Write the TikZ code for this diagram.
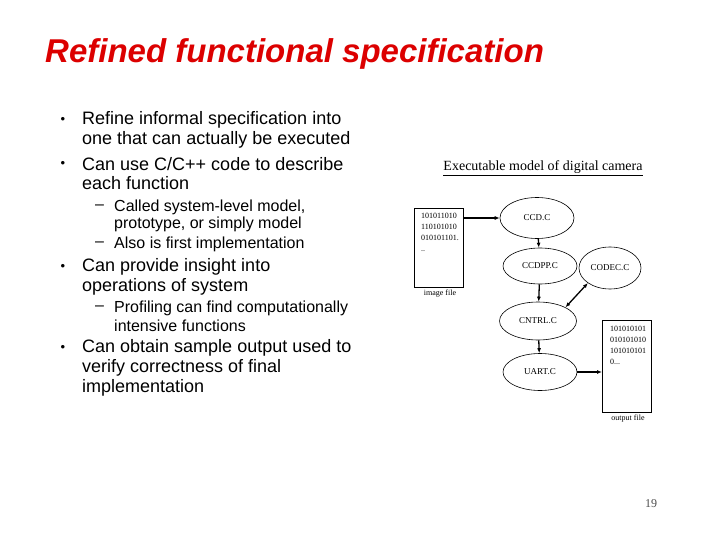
\documentclass[tikz,border=0pt]{standalone}
\usepackage{fontspec}
\setmainfont{Liberation Sans}
\newfontfamily\serifx{Liberation Serif}
\usetikzlibrary{arrows.meta,shapes.geometric}
\definecolor{ttl}{RGB}{220,0,0}
\begin{document}
\begin{tikzpicture}[x=1pt,y=-1pt,
  body/.style={anchor=west,inner sep=0,font=\fontsize{18}{20}\selectfont},
  sub/.style={anchor=west,inner sep=0,font=\fontsize{16}{18}\selectfont},
  ell/.style={draw,ellipse,line width=0.6pt,inner sep=0,font=\serifx\fontsize{9}{10}\selectfont},
  docbox/.style={draw,line width=0.6pt,anchor=north west,inner sep=0},
  doctext/.style={anchor=north west,align=left,inner sep=0,font=\serifx\fontsize{8}{11}\selectfont},
  doccap/.style={inner sep=0,font=\serifx\fontsize{8}{9}\selectfont},
  arr/.style={-{Latex[length=5pt,width=4pt]},line width=1.3pt}]
\useasboundingbox (0,0) rectangle (720,540);
\node[anchor=west,inner sep=0,text=ttl,font=\bfseries\itshape\fontsize{33}{36}\selectfont] (title) at (45,54) {Refined functional specification};
\foreach \y/\n in {120/b1,164/b2,267/b3,348/b4}
  \node[inner sep=0,font=\fontsize{13}{13}\selectfont] (\n) at (63,\y) {\textbullet};
\node[body] (l1) at (82,120) {Refine informal specification into};
\node[body] (l2) at (82,140) {one that can actually be executed};
\node[body] (l3) at (82,164) {Can use C/C++ code to describe};
\node[body] (l4) at (82,183) {each function};
\node[sub] (d1) at (95,207) {–};
\node[sub] (s1) at (114,207) {Called system-level model,};
\node[sub] (s2) at (114,224) {prototype, or simply model};
\node[sub] (d2) at (95,244) {–};
\node[sub] (s3) at (114,244) {Also is first implementation};
\node[body] (l5) at (82,267) {Can provide insight into};
\node[body] (l6) at (82,287) {operations of system};
\node[sub] (d3) at (95,308) {–};
\node[sub] (s4) at (114,308) {Profiling can find computationally};
\node[sub] (s5) at (114,326) {intensive functions};
\node[body] (l7) at (82,348) {Can obtain sample output used to};
\node[body] (l8) at (82,368) {verify correctness of final};
\node[body] (l9) at (82,388) {implementation};
% diagram
\node[inner sep=1pt,font=\serifx\fontsize{14}{15}\selectfont] (hd) at (543,168) {\underline{Executable model of digital camera}};
\node[docbox,minimum width=49pt,minimum height=79pt] (img) at (414,208) {};
\node[doctext] (imgt) at (421,213) {101011010\\110101010\\010101101.\\..};
\node[doccap,anchor=north] (imgc) at (440,290) {image file};
\node[docbox,minimum width=49pt,minimum height=92pt] (out) at (602,320) {};
\node[doctext] (outt) at (610,326) {101010101\\010101010\\101010101\\0...};
\node[doccap,anchor=north] (outc) at (628,415) {output file};
\node[ell,minimum width=74pt,minimum height=41pt] (ccd) at (537,218) {CCD.C};
\node[ell,minimum width=74pt,minimum height=36pt] (ccdpp) at (540,266) {CCDPP.C};
\node[ell,minimum width=62pt,minimum height=42pt] (codec) at (610,268) {CODEC.C};
\node[ell,minimum width=77pt,minimum height=38pt] (cntrl) at (538,321) {CNTRL.C};
\node[ell,minimum width=74pt,minimum height=37pt] (uart) at (540,372) {UART.C};
\draw[arr] (img.east|-ccd) -- (ccd.west);
\draw[arr] (ccd) -- (ccdpp);
\draw[arr] (ccdpp) -- (cntrl);
\draw[arr,{Latex[length=5pt,width=4pt]}-{Latex[length=5pt,width=4pt]}] (cntrl.north east) -- (codec.south west);
\draw[arr] (cntrl) -- (uart);
\draw[arr] (uart.east) -- (out.west|-uart.east);
\node[font=\serifx\fontsize{12}{13}\selectfont,text=black!70] (pg) at (651,504) {19};
\end{tikzpicture}
\end{document}
